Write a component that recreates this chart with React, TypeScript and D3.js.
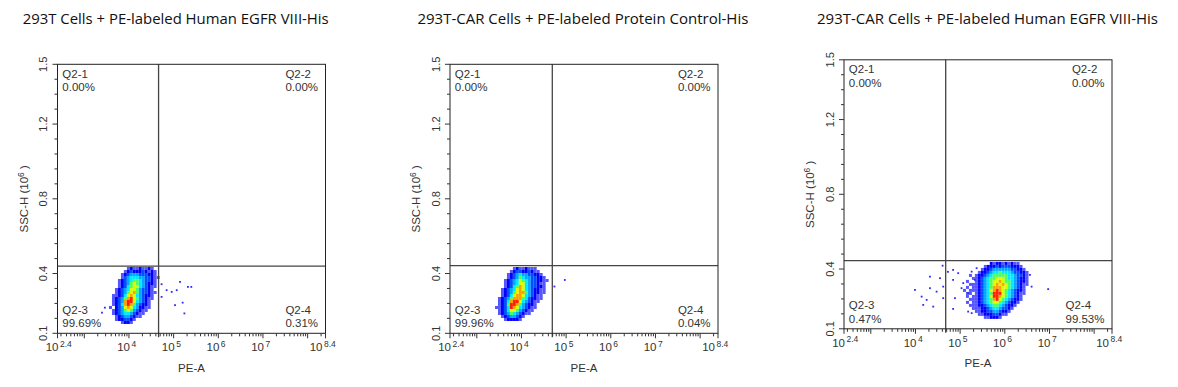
import { useEffect, useRef } from "react";
import * as d3 from "d3";

const titles = [
  "293T Cells + PE-labeled Human EGFR VIII-His",
  "293T-CAR Cells + PE-labeled Protein Control-His",
  "293T-CAR Cells + PE-labeled Human EGFR VIII-His",
];
const quadrantNames = ["Q2-1", "Q2-2", "Q2-3", "Q2-4"];
const quadrantPct1 = ["0.00%", "0.00%", "99.69%", "0.31%"];
const quadrantPct2 = ["0.00%", "0.00%", "99.96%", "0.04%"];
const quadrantPct3 = ["0.00%", "0.00%", "0.47%", "99.53%"];

// x axis: log PE-A, labels 10^e
const xTickExponents = ["2.4", "4", "5", "6", "7", "8.4"];
// y axis: SSC-H (10^6), 18 even steps, labels rounded
const yTickValues = [0.1, 0.4111, 0.8, 1.1889, 1.5];
const yTickLabels = ["0.1", "0.4", "0.8", "1.2", "1.5"];

// quadrant gates [PE-A, SSC-H]
const gateX = [4.6e4, 4.9e4, 4.75e4];
const gateY = [0.45, 0.452, 0.455];

// density grids: [log10 PE-A at left edge, SSC-H at top edge]
const gridOrigin1 = [3.553, 0.445];
const gridOrigin2 = [3.408, 0.445];
const gridOrigin3 = [5.064, 0.448];
const cellLog = 1 / 15;
const cellY = 0.0156;

const density1 = [
  "00000012112112100",
  "00000123222321210",
  "00001234443332210",
  "00001345554433211",
  "00012345665433210",
  "00012346765432210",
  "00012356775432110",
  "00123457764332100",
  "00123467864332110",
  "01123578754322100",
  "01234689764321100",
  "01234899754321000",
  "01235898643221000",
  "10234787542211000",
  "01234676432110000",
  "01234554321100000",
  "00123443211000000",
  "00122332100000000",
  "00001221000000000",
];

const density2 = [
  "0000001211211100000",
  "0000012332232110000",
  "0000123454433221000",
  "0000123465443322100",
  "0001234576543322110",
  "0001234577543321100",
  "0001235687543322100",
  "0012345787543221100",
  "0012346788643221100",
  "0012357887543211000",
  "0123468886532211000",
  "0123589975432110000",
  "0123699864322100000",
  "1123598754321100000",
  "0123577643211000000",
  "0123465432110000000",
  "0012344321000000000",
  "0001222210000000000",
];

const density3 = [
  "0000000002122121211000",
  "0000000122232333222100",
  "0000001223444444332210",
  "0000012234556555433221",
  "0010122345666665543321",
  "0001123456677765543221",
  "0100123456778766543221",
  "0011123456787876543211",
  "0101123456888776543210",
  "1011123457898765432210",
  "0110123456999765432110",
  "0101123457998765432100",
  "0011123456897654322100",
  "0101123456776543221000",
  "0011122345665432210000",
  "0001112234554332100000",
  "0000112233443221000000",
  "0000011222332110000000",
  "0000000112221000000000",
];

// sparse events outside the main cloud [PE-A, SSC-H]
const outliers1 = [
  [5.4e4, 0.355], [7.0e4, 0.324], [9.1e4, 0.315], [1.18e5, 0.324], [1.4e5, 0.367],
  [2.1e5, 0.341], [2.5e5, 0.341], [1.08e5, 0.246], [1.6e5, 0.259], [1.75e5, 0.203],
  [5.4e4, 0.289], [2.9e3, 0.233], [2.5e3, 0.207],
];
const outliers2 = [[5.5e4, 0.343], [9.4e4, 0.377]];
const outliers3 = [
  [9.8e3, 0.302], [1.38e4, 0.267], [1.5e4, 0.224], [1.79e4, 0.25], [2.12e4, 0.371],
  [2.12e4, 0.311], [2.51e4, 0.215], [2.99e4, 0.293], [3.55e4, 0.363], [4.07e4, 0.428],
  [4.2e4, 0.259], [4.2e4, 0.319], [5.35e4, 0.396], [7.0e4, 0.406], [7.0e4, 0.354],
  [7.0e4, 0.203], [7.7e4, 0.259], [9.1e4, 0.389], [1.08e5, 0.311], [1.18e5, 0.337],
  [1.52e5, 0.285], [1.52e5, 0.189], [1.82e5, 0.397], [1.82e5, 0.181], [2.15e5, 0.354],
  [2.35e5, 0.415], [9.4e6, 0.306], [4.0e6, 0.319], [3.67e6, 0.38],
];

const densityColors = ["none", "#5656ff", "#0000ff", "#0050ff", "#00a8ff", "#00eaff", "#4cff5a", "#d8ff00", "#ffa000", "#ff2000"];

const panels = [
  { pct: quadrantPct1, grid: density1, origin: gridOrigin1, outliers: outliers1 },
  { pct: quadrantPct2, grid: density2, origin: gridOrigin2, outliers: outliers2 },
  { pct: quadrantPct3, grid: density3, origin: gridOrigin3, outliers: outliers3 },
];

const plotLeft = [57.5, 450, 844];
const plotTop = [64.3, 64.3, 59.8];
const titleX = [22.7, 417.4, 817];
const titleW = [306, 331, 341];
const W = 268;
const H = 269;
const axisFont = "'Liberation Sans', Arial, sans-serif";
const textColor = "#333";

export default function App() {
  const ref = useRef<SVGSVGElement>(null);

  useEffect(() => {
    const svg = d3.select(ref.current);
    svg.selectAll("*").remove();
    svg.append("rect").attr("width", 1178).attr("height", 387).attr("fill", "#fff");

    panels.forEach((p, i) => {
      const x = d3.scaleLog().domain([10 ** 2.4, 10 ** 8.4]).range([0, W]);
      const y = d3.scaleLinear().domain([0.1, 1.5]).range([H, 0]);

      svg
        .append("text")
        .attr("x", titleX[i])
        .attr("y", 24)
        .attr("font-family", "'Open Sans', 'Noto Sans', sans-serif")
        .attr("font-size", 14.5)
        .attr("fill", "#111")
        .attr("textLength", titleW[i])
        .attr("lengthAdjust", "spacingAndGlyphs")
        .text(titles[i]);

      const g = svg.append("g").attr("transform", `translate(${plotLeft[i]},${plotTop[i]})`);

      // density cells
      const [log0, yTop] = p.origin;
      const cells: { c: number; r: number; lvl: number }[] = [];
      p.grid.forEach((row, r) =>
        row.split("").forEach((ch, c) => {
          if (+ch > 0) cells.push({ c, r, lvl: +ch });
        }),
      );
      g.selectAll(".cell")
        .data(cells)
        .enter()
        .append("rect")
        .attr("x", (d) => x(10 ** (log0 + d.c * cellLog)))
        .attr("y", (d) => y(yTop - d.r * cellY))
        .attr("width", (d) => x(10 ** (log0 + (d.c + 1) * cellLog)) - x(10 ** (log0 + d.c * cellLog)))
        .attr("height", (d) => y(yTop - (d.r + 1) * cellY) - y(yTop - d.r * cellY))
        .attr("fill", (d) => densityColors[d.lvl]);

      g.selectAll(".dot")
        .data(p.outliers)
        .enter()
        .append("rect")
        .attr("x", (d) => x(d[0]) - 1)
        .attr("y", (d) => y(d[1]) - 1)
        .attr("width", 1.8)
        .attr("height", 1.8)
        .attr("fill", "#2a2aff");

      // quadrant gates
      g.append("line")
        .attr("x1", x(gateX[i]))
        .attr("x2", x(gateX[i]))
        .attr("y1", 0)
        .attr("y2", H + 4)
        .attr("stroke", "#444")
        .attr("stroke-width", 1.3);
      g.append("line")
        .attr("x1", 0)
        .attr("x2", W)
        .attr("y1", y(gateY[i]))
        .attr("y2", y(gateY[i]))
        .attr("stroke", "#444")
        .attr("stroke-width", 1.3);

      // frame
      g.append("rect")
        .attr("width", W)
        .attr("height", H)
        .attr("fill", "none")
        .attr("stroke", "#222")
        .attr("stroke-width", 1);

      // x ticks
      const xMinor: number[] = [];
      for (let n = 2; n <= 8; n++)
        for (let k = 1; k <= 9; k++) {
          const v = k * 10 ** n;
          if (v >= 10 ** 2.4 && v <= 10 ** 8.4) xMinor.push(v);
        }
      g.selectAll(".xt")
        .data(xMinor)
        .enter()
        .append("line")
        .attr("x1", (d) => x(d))
        .attr("x2", (d) => x(d))
        .attr("y1", H)
        .attr("y2", (d) => (Math.abs(Math.log10(d) % 1) < 1e-9 ? H + 5 : H + 3))
        .attr("stroke", "#333");
      [0, W].forEach((px) =>
        g.append("line").attr("x1", px).attr("x2", px).attr("y1", H).attr("y2", H + 5).attr("stroke", "#333"),
      );

      xTickExponents.forEach((e, k) => {
        const tx = x(10 ** +e) + (k === xTickExponents.length - 1 ? -4 : 0);
        g.append("text")
          .attr("x", tx + 1)
          .attr("y", H + 18)
          .attr("text-anchor", "end")
          .attr("font-family", axisFont)
          .attr("font-size", 11.5)
          .attr("fill", textColor)
          .text("10");
        g.append("text")
          .attr("x", tx + 2.5)
          .attr("y", H + 13.5)
          .attr("font-family", axisFont)
          .attr("font-size", 8.5)
          .attr("fill", textColor)
          .text(e);
      });

      g.append("text")
        .attr("x", W / 2)
        .attr("y", H + 38.5)
        .attr("text-anchor", "middle")
        .attr("font-family", axisFont)
        .attr("font-size", 11.5)
        .attr("fill", textColor)
        .text("PE-A");

      // y ticks
      const yMinor = d3.range(19).map((k) => 0.1 + (k * 1.4) / 18);
      g.selectAll(".yt")
        .data(yMinor)
        .enter()
        .append("line")
        .attr("x1", 0)
        .attr("x2", (_, k) => ([0, 4, 9, 14, 18].includes(k) ? -5 : -3))
        .attr("y1", (d) => y(d))
        .attr("y2", (d) => y(d))
        .attr("stroke", "#333");

      yTickValues.forEach((v, k) => {
        g.append("text")
          .attr("transform", `translate(${-14},${y(v)}) rotate(-90)`)
          .attr("text-anchor", "middle")
          .attr("dy", "0.35em")
          .attr("font-family", axisFont)
          .attr("font-size", 11)
          .attr("fill", textColor)
          .text(yTickLabels[k]);
      });

      const yt = g
        .append("text")
        .attr("transform", `translate(${-34},${H / 2}) rotate(-90)`)
        .attr("text-anchor", "middle")
        .attr("dy", "0.35em")
        .attr("font-family", axisFont)
        .attr("font-size", 11.5)
        .attr("fill", textColor);
      yt.append("tspan").text("SSC-H (10");
      yt.append("tspan").attr("dy", -4).attr("font-size", 8.5).text("6");
      yt.append("tspan").attr("dy", 4).text(" )");

      // quadrant labels
      quadrantNames.forEach((name, q) => {
        const right = q === 1 || q === 3;
        const bottom = q >= 2;
        const base = bottom ? H - 19.5 : 13.3;
        const lab = g
          .append("g")
          .attr("font-family", axisFont)
          .attr("font-size", 11.5)
          .attr("fill", textColor);
        const t1 = lab.append("text").attr("y", base).text(name);
        const t2 = lab.append("text").attr("y", base + 13.5).text(p.pct[q]);
        let lx = 4.8;
        if (right) {
          const w = Math.max(
            (t1.node() as SVGTextElement).getComputedTextLength(),
            (t2.node() as SVGTextElement).getComputedTextLength(),
          );
          lx = W - 7.5 - w;
        }
        t1.attr("x", lx);
        t2.attr("x", lx);
      });
    });
  }, []);

  return (
    <svg
      ref={ref}
      width={1178}
      height={387}
      style={{ position: "absolute", left: 0, top: 0, display: "block" }}
    />
  );
}
